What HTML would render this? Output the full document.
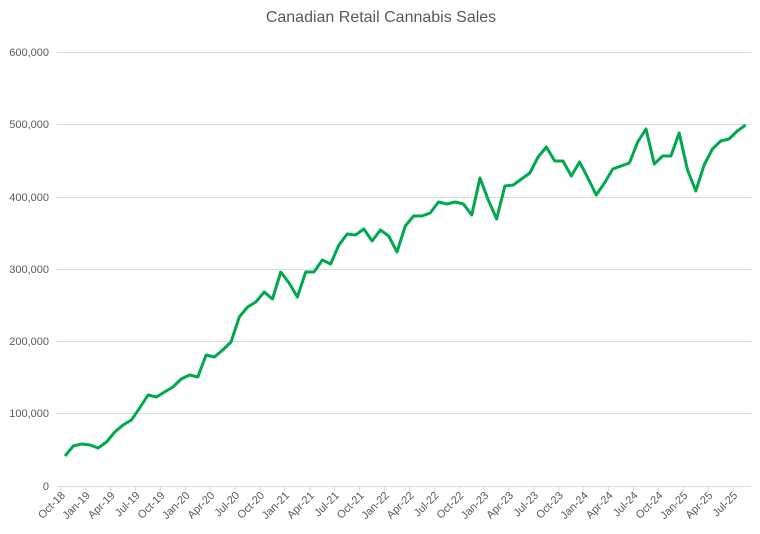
<!DOCTYPE html>
<html><head><meta charset="utf-8"><style>body{margin:0;background:#fff}svg{display:block}</style></head><body>
<svg id="s" width="760" height="534" viewBox="0 0 760 534" xmlns="http://www.w3.org/2000/svg" font-family="Liberation Sans, sans-serif">
<text x="381" y="22" text-anchor="middle" font-size="16" fill="#595959">Canadian Retail Cannabis Sales</text>
<g stroke="#d9d9d9" stroke-width="1">
<line x1="57" x2="751" y1="52.5" y2="52.5"/><line x1="57" x2="751" y1="124.5" y2="124.5"/><line x1="57" x2="751" y1="197.5" y2="197.5"/><line x1="57" x2="751" y1="269.5" y2="269.5"/><line x1="57" x2="751" y1="341.5" y2="341.5"/><line x1="57" x2="751" y1="413.5" y2="413.5"/><line x1="57" x2="751" y1="486.5" y2="486.5"/>
</g>
<g font-size="11" fill="#595959" text-anchor="end">
<text x="49" y="56">600,000</text><text x="49" y="128">500,000</text><text x="49" y="201">400,000</text><text x="49" y="273">300,000</text><text x="49" y="345">200,000</text><text x="49" y="417">100,000</text><text x="49" y="490">0</text>
</g>
<g id="ticks" stroke="#d9d9d9"></g>
<g id="xl" font-size="11" fill="#595959" text-anchor="end">
<text transform="translate(65.8,496) rotate(-45)">Oct-18</text>
<text transform="translate(90.7,496) rotate(-45)">Jan-19</text>
<text transform="translate(115.6,496) rotate(-45)">Apr-19</text>
<text transform="translate(140.5,496) rotate(-45)">Jul-19</text>
<text transform="translate(165.4,496) rotate(-45)">Oct-19</text>
<text transform="translate(190.3,496) rotate(-45)">Jan-20</text>
<text transform="translate(215.2,496) rotate(-45)">Apr-20</text>
<text transform="translate(240.1,496) rotate(-45)">Jul-20</text>
<text transform="translate(265.0,496) rotate(-45)">Oct-20</text>
<text transform="translate(289.9,496) rotate(-45)">Jan-21</text>
<text transform="translate(314.8,496) rotate(-45)">Apr-21</text>
<text transform="translate(339.7,496) rotate(-45)">Jul-21</text>
<text transform="translate(364.6,496) rotate(-45)">Oct-21</text>
<text transform="translate(389.5,496) rotate(-45)">Jan-22</text>
<text transform="translate(414.4,496) rotate(-45)">Apr-22</text>
<text transform="translate(439.3,496) rotate(-45)">Jul-22</text>
<text transform="translate(464.2,496) rotate(-45)">Oct-22</text>
<text transform="translate(489.1,496) rotate(-45)">Jan-23</text>
<text transform="translate(514.0,496) rotate(-45)">Apr-23</text>
<text transform="translate(538.9,496) rotate(-45)">Jul-23</text>
<text transform="translate(563.8,496) rotate(-45)">Oct-23</text>
<text transform="translate(588.7,496) rotate(-45)">Jan-24</text>
<text transform="translate(613.6,496) rotate(-45)">Apr-24</text>
<text transform="translate(638.5,496) rotate(-45)">Jul-24</text>
<text transform="translate(663.4,496) rotate(-45)">Oct-24</text>
<text transform="translate(688.3,496) rotate(-45)">Jan-25</text>
<text transform="translate(713.2,496) rotate(-45)">Apr-25</text>
<text transform="translate(738.1,496) rotate(-45)">Jul-25</text>
</g>
<polyline fill="none" stroke="#00a84f" stroke-width="3" stroke-linejoin="round" id="ln" points=""/>
<script>
var ys=[456,446,444,445,448,442,432,425,420,408,395,397,392,387,379,375,377,355,357,350,342,317,307,302,292,299,272,283,297,272,272,260,264,245,234,235,229,241,230,236,252,226,216,216,213,202,204,202,204,215,178,200,219,186,185,179,173,157,147,161,161,176,162,178,195,183,169,166,163,142,129,164,156,156,133,170,191,165,149,141,139,131,125];
var p=ys.map(function(y,i){return (65+8.3*i).toFixed(1)+","+y}).join(" ");
document.getElementById("ln").setAttribute("points",p);
var g=document.getElementById("ticks"),NS="http://www.w3.org/2000/svg";
for(var k=0;k<=27;k++){var x=(60.8+24.9*k).toFixed(1);var e=document.createElementNS(NS,"line");
e.setAttribute("x1",x);e.setAttribute("x2",x);e.setAttribute("y1","486");e.setAttribute("y2","491");g.appendChild(e);}
</script>
</svg>
</body></html>
